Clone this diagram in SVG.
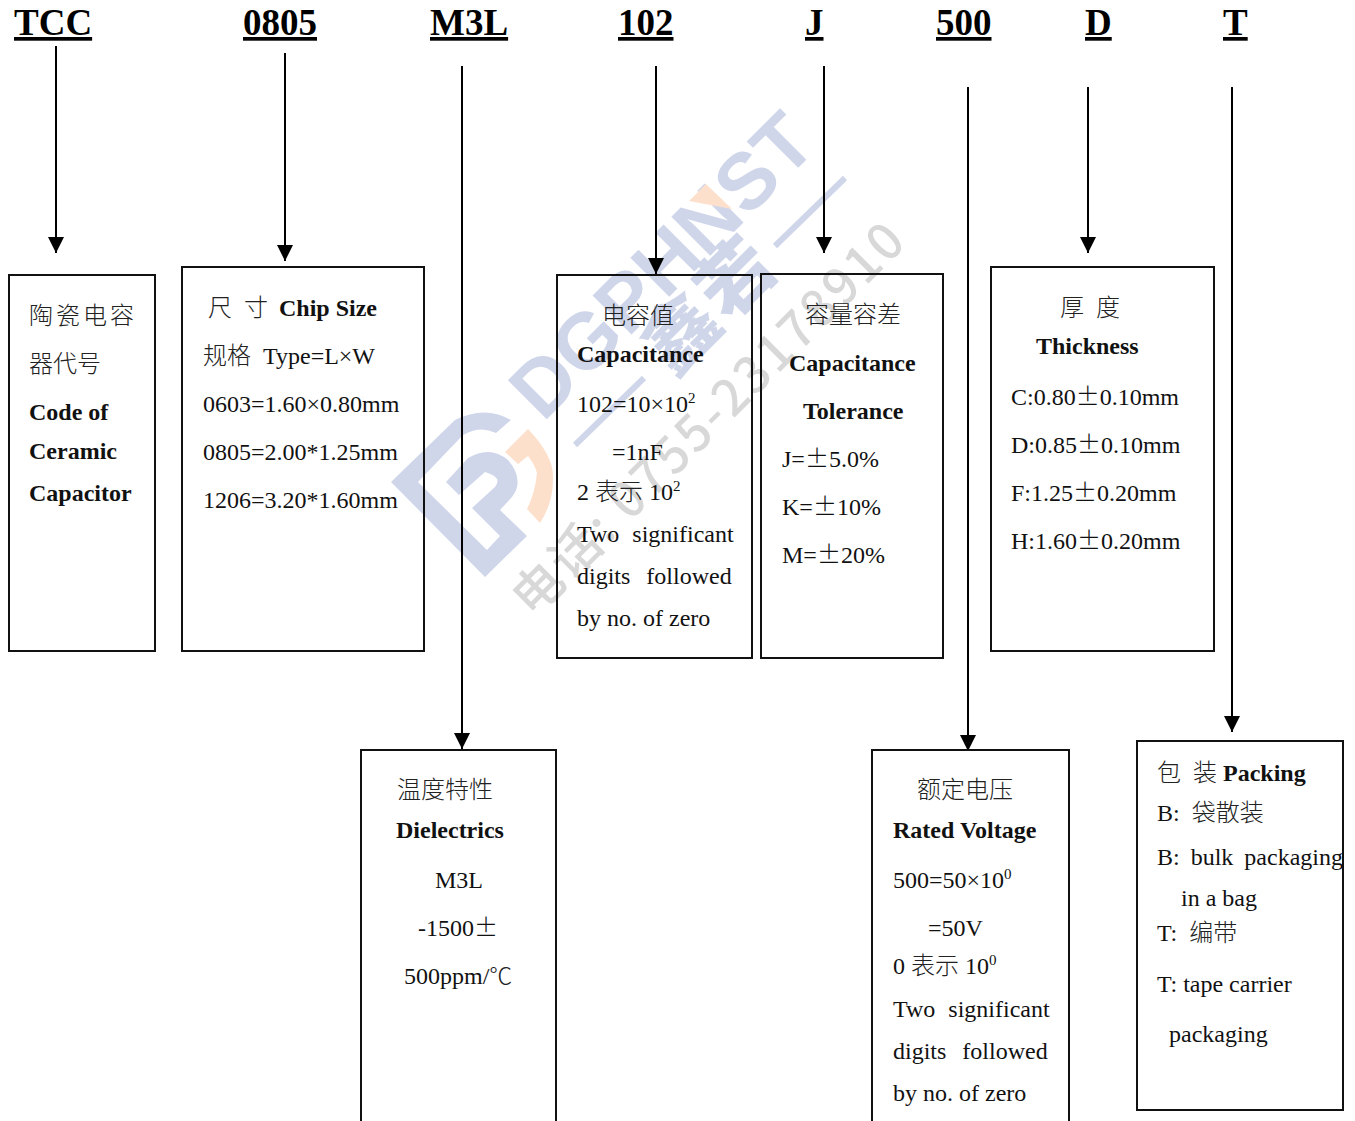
<svg xmlns="http://www.w3.org/2000/svg" width="1355" height="1121" viewBox="0 0 1355 1121">
<defs>
<style>
text{font-family:"Liberation Serif","Noto Sans CJK SC",serif;font-size:24px;fill:#111;white-space:pre}
.h{font-size:37px;font-weight:700;fill:#000;text-decoration:underline}
.b{font-weight:700}
.c{font-family:"Noto Sans CJK SC","Liberation Serif",sans-serif;font-weight:300;fill:#222}
.pm{font-family:"Noto Sans CJK SC",sans-serif;font-weight:300;font-feature-settings:"fwid"}
.box{fill:none;stroke:#111;stroke-width:2}
.con{fill:none;stroke:#000;stroke-width:2;marker-end:url(#a)}
.wb{fill:#d0d6ea}.wo{fill:#fde0cc}
.wl{stroke:#d0d6ea;stroke-width:6;fill:none}
.wt{font-family:"Liberation Sans",sans-serif;font-weight:700;font-size:80px;fill:#d0d6ea}
.wc{font-family:"Noto Sans CJK SC",sans-serif;font-weight:900;font-size:74px;fill:#d0d6ea}
.wg{font-family:"Noto Sans CJK SC",sans-serif;font-weight:500;font-size:50px;fill:#d8d8d8}
.sup{font-size:15px}
</style>
<marker id="a" markerUnits="userSpaceOnUse" markerWidth="16" markerHeight="16" refX="16" refY="8" orient="auto"><path d="M0 0L16 8L0 16Z" fill="#000"/></marker>
</defs>
<rect width="1355" height="1121" fill="#fff"/>
<g id="watermark">
<path class="wb" d="M391 482L455 420Q485 405 511 420L496 433Q480 425 463 435L418 482L487 550L500 536L472 508L495 487Q503 477 485 472L459 495L446 482L468 458Q490 445 508 460Q525 480 512 497L500 510L527 536L485 577Z"/>
<path class="wo" d="M505 452L528 429Q555 457 553 480Q553 503 540 523L527 509Q535 493 537 473Q535 465 528 456L518 464Z"/>
<text class="wt" transform="translate(543 423) rotate(-45)">DGPHNST</text>
<path class="wo" d="M689 201L706 184L732 209Z"/>
<path class="wl" d="M575 445L644 378M775 246L845 178"/>
<text class="wc" transform="translate(673 378) rotate(-45)" letter-spacing="4">鑫若</text>
<text class="wg" transform="translate(533 619) rotate(-45)" textLength="530" lengthAdjust="spacing">电话: 0755-23178910</text>
</g>
<g id="connectors">
<path class="con" d="M56 46V253"/>
<path class="con" d="M285 53V261"/>
<path class="con" d="M462 66V749"/>
<path class="con" d="M656 66V274"/>
<path class="con" d="M824 66V253"/>
<path class="con" d="M968 87V751"/>
<path class="con" d="M1088 87V253"/>
<path class="con" d="M1232 87V732"/>
</g>
<g id="headers">
<text class="h" x="14" y="35">TCC</text>
<text class="h" x="243" y="35">0805</text>
<text class="h" x="430" y="35">M3L</text>
<text class="h" x="618" y="35">102</text>
<text class="h" x="805" y="35">J</text>
<text class="h" x="936" y="35">500</text>
<text class="h" x="1085" y="35">D</text>
<text class="h" x="1223" y="35">T</text>
</g>
<g id="node-tcc">
<rect class="box" x="9" y="275" width="146" height="376"/>
<text class="c" x="29" y="324" letter-spacing="3">陶瓷电容</text>
<text class="c" x="29" y="372">器代号</text>
<text class="b" x="29" y="420">Code of</text>
<text class="b" x="29" y="459">Ceramic</text>
<text class="b" x="29" y="501">Capacitor</text>
</g>
<g id="node-size">
<rect class="box" x="182" y="267" width="242" height="384"/>
<text x="208" y="316"><tspan class="c">尺</tspan><tspan class="c" dx="12">寸</tspan><tspan class="b" dx="11">Chip Size</tspan></text>
<text x="203" y="364"><tspan class="c">规格</tspan><tspan dx="12">Type=L×W</tspan></text>
<text x="203" y="412">0603=1.60×0.80mm</text>
<text x="203" y="460">0805=2.00*1.25mm</text>
<text x="203" y="508">1206=3.20*1.60mm</text>
</g>
<g id="node-dielectric">
<rect class="box" x="361" y="750" width="195" height="390"/>
<text class="c" x="397" y="798">温度特性</text>
<text class="b" x="396" y="838">Dielectrics</text>
<text x="435" y="888">M3L</text>
<text x="418" y="936">-1500<tspan class="pm">±</tspan></text>
<text x="404" y="984">500ppm/<tspan class="c" font-size="23">℃</tspan></text>
</g>
<g id="node-capacitance">
<rect class="box" x="557" y="275" width="195" height="383"/>
<text class="c" x="602" y="324">电容值</text>
<text class="b" x="577" y="362">Capacitance</text>
<text x="577" y="412">102=10×10<tspan class="sup" dy="-9">2</tspan></text>
<text x="612" y="460">=1nF</text>
<text x="577" y="500">2 <tspan class="c">表示</tspan> 10<tspan class="sup" dy="-9">2</tspan></text>
<text x="577" y="542" word-spacing="7">Two significant</text>
<text x="577" y="584" word-spacing="10">digits followed</text>
<text x="577" y="626">by no. of zero</text>
</g>
<g id="node-tolerance">
<rect class="box" x="761" y="274" width="182" height="384"/>
<text class="c" x="805" y="323">容量容差</text>
<text class="b" x="789" y="371">Capacitance</text>
<text class="b" x="803" y="419">Tolerance</text>
<text x="782" y="467">J=<tspan class="pm">±</tspan>5.0%</text>
<text x="782" y="515">K=<tspan class="pm">±</tspan>10%</text>
<text x="782" y="563">M=<tspan class="pm">±</tspan>20%</text>
</g>
<g id="node-thickness">
<rect class="box" x="991" y="267" width="223" height="384"/>
<text x="1060" y="316"><tspan class="c">厚</tspan><tspan class="c" dx="12">度</tspan></text>
<text class="b" x="1036" y="354">Thickness</text>
<text x="1011" y="405">C:0.80<tspan class="pm">±</tspan>0.10mm</text>
<text x="1011" y="453">D:0.85<tspan class="pm">±</tspan>0.10mm</text>
<text x="1011" y="501">F:1.25<tspan class="pm">±</tspan>0.20mm</text>
<text x="1011" y="549">H:1.60<tspan class="pm">±</tspan>0.20mm</text>
</g>
<g id="node-voltage">
<rect class="box" x="872" y="750" width="197" height="390"/>
<text class="c" x="917" y="798">额定电压</text>
<text class="b" x="893" y="838">Rated Voltage</text>
<text x="893" y="888">500=50×10<tspan class="sup" dy="-9">0</tspan></text>
<text x="928" y="936">=50V</text>
<text x="893" y="974">0 <tspan class="c">表示</tspan> 10<tspan class="sup" dy="-9">0</tspan></text>
<text x="893" y="1017" word-spacing="7">Two significant</text>
<text x="893" y="1059" word-spacing="10">digits followed</text>
<text x="893" y="1101">by no. of zero</text>
</g>
<g id="node-packing">
<rect class="box" x="1137" y="741" width="206" height="369"/>
<text x="1157" y="781"><tspan class="c">包</tspan><tspan class="c" dx="12">装</tspan><tspan class="b" dx="6">Packing</tspan></text>
<text x="1157" y="821">B:<tspan class="c" dx="12">袋散装</tspan></text>
<text x="1157" y="865" word-spacing="5">B: bulk packaging</text>
<text x="1181" y="906">in a bag</text>
<text x="1157" y="941">T:<tspan class="c" dx="12">编带</tspan></text>
<text x="1157" y="992">T: tape carrier</text>
<text x="1169" y="1042">packaging</text>
</g>
</svg>
